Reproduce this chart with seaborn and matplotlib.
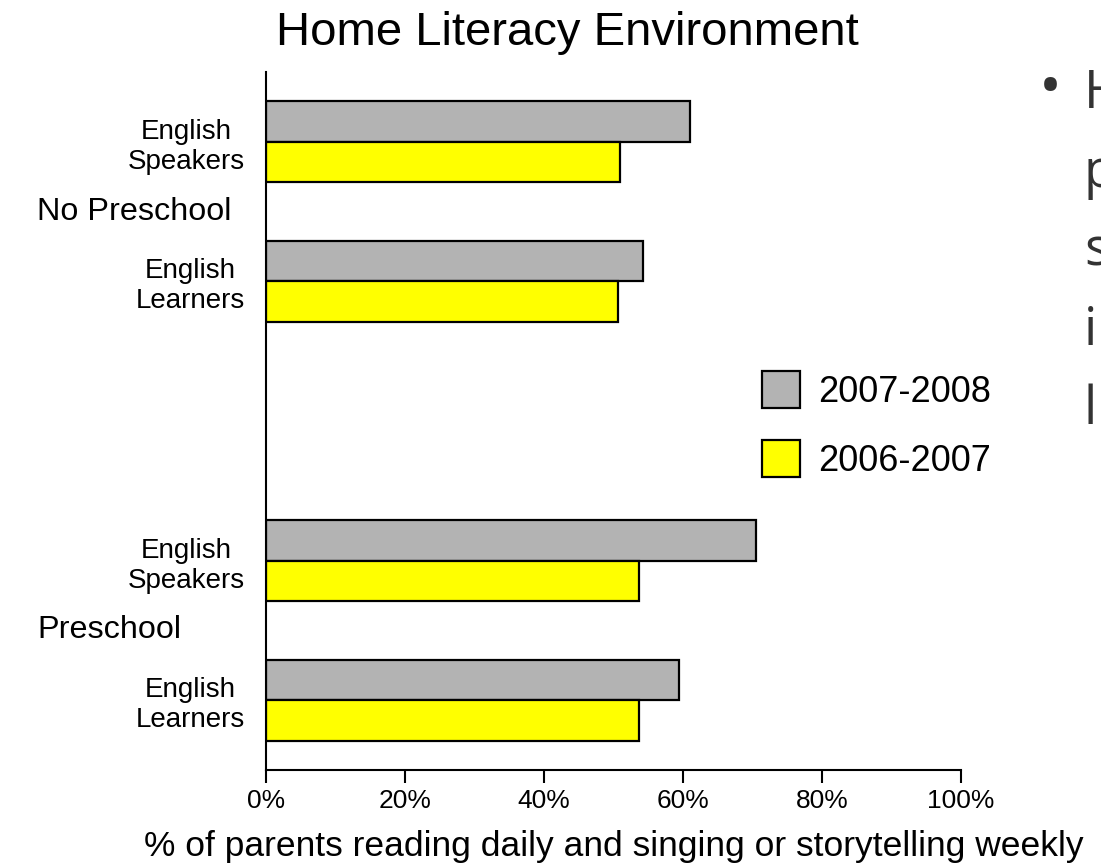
import pandas as pd
import numpy as np
import matplotlib
matplotlib.use("Agg")
import matplotlib.pyplot as plt
import matplotlib.transforms as mtransforms
import seaborn as sns
from matplotlib.ticker import PercentFormatter

# Data
groups = ['No Preschool', 'No Preschool', 'Preschool', 'Preschool']
students = ['English\nSpeakers', 'English\nLearners', 'English\nSpeakers', 'English\nLearners']
years = ['2007-2008', '2006-2007']
pct_0708 = [61.0, 54.2, 70.5, 59.4]
pct_0607 = [51.0, 50.7, 53.7, 53.7]
x_ticks = [0, 20, 40, 60, 80, 100]

# Slide text cut off at the right edge
side_letters = ['H', 'p', 's', 'i', 'l']

sns.set_style("ticks")
plt.rcParams['font.family'] = ['Liberation Sans', 'DejaVu Sans']
plt.rcParams.update({'text.color': 'black', 'axes.labelcolor': 'black',
                     'xtick.color': 'black', 'ytick.color': 'black',
                     'axes.edgecolor': 'black'})

# long-format table; a blank spacer row separates the two groups
rows = [g + '|' + s for g, s in zip(groups, students)]
df = pd.DataFrame({
    'row': rows * 2,
    'year': [years[0]] * 4 + [years[1]] * 4,
    'pct': pct_0708 + pct_0607,
})
order = rows[:2] + ['spacer'] + rows[2:]

fig = plt.figure(figsize=(11.01, 8.68), dpi=100)
ax = fig.add_axes([266 / 1101, 1 - 770 / 868, 695 / 1101, 698 / 868])

sns.barplot(data=df, x='pct', y='row', hue='year', order=order, hue_order=years,
            palette=['#b3b3b3', '#ffff00'], orient='h', width=0.58, gap=0,
            edgecolor='black', linewidth=1.6, saturation=1, errorbar=None, ax=ax)

ax.set_xlim(0, 100)
ax.set_ylim(4.5, -0.5)
ax.set_xticks(x_ticks)
ax.xaxis.set_major_formatter(PercentFormatter(xmax=100, decimals=0))
ax.tick_params(axis='x', length=9, width=1.5, pad=5, labelsize=19)
ax.set_yticks(range(len(order)))
ax.set_yticklabels(students[:2] + [''] + students[2:])
ax.tick_params(axis='y', length=0, pad=15, labelsize=20)
for lbl in ax.get_yticklabels():
    lbl.set_multialignment('center')
ax.set_ylabel('')
ax.set_xlabel('% of parents reading daily and singing or storytelling weekly',
              fontsize=25.5, labelpad=12)
for side in ['top', 'right']:
    ax.spines[side].set_visible(False)
for side in ['left', 'bottom']:
    ax.spines[side].set_linewidth(1.5)

# group labels on the left
trans = mtransforms.blended_transform_factory(fig.transFigure, ax.transData)
for i, g in enumerate(['No Preschool', 'Preschool']):
    ax.text(37 / 1101, 0.5 + 3 * i, g, transform=trans,
            ha='left', va='center', fontsize=23.3)

ax.legend(loc='upper left', bbox_to_anchor=(744 / 1101, 1 - 353 / 868),
          bbox_transform=fig.transFigure, frameon=False, fontsize=26,
          handlelength=1.05, handleheight=1.2, handletextpad=0.5,
          labelspacing=0.85, borderpad=0)

fig.text(567 / 1101, 1 - 33 / 868, 'Home Literacy Environment',
         ha='center', va='center', fontsize=34)

fig.text(1039 / 1101, 1 - 106 / 868, '\u2022', family=['Open Sans', 'DejaVu Sans'],
         color='#333333', fontsize=44, ha='left', va='baseline')
for k, ch in enumerate(side_letters):
    fig.text(1084 / 1101, 1 - (108 + 79 * k) / 868, ch, family=['Open Sans', 'DejaVu Sans'],
             color='#333333', fontsize=38, ha='left', va='baseline')

fig.savefig('out.png', dpi=100)
